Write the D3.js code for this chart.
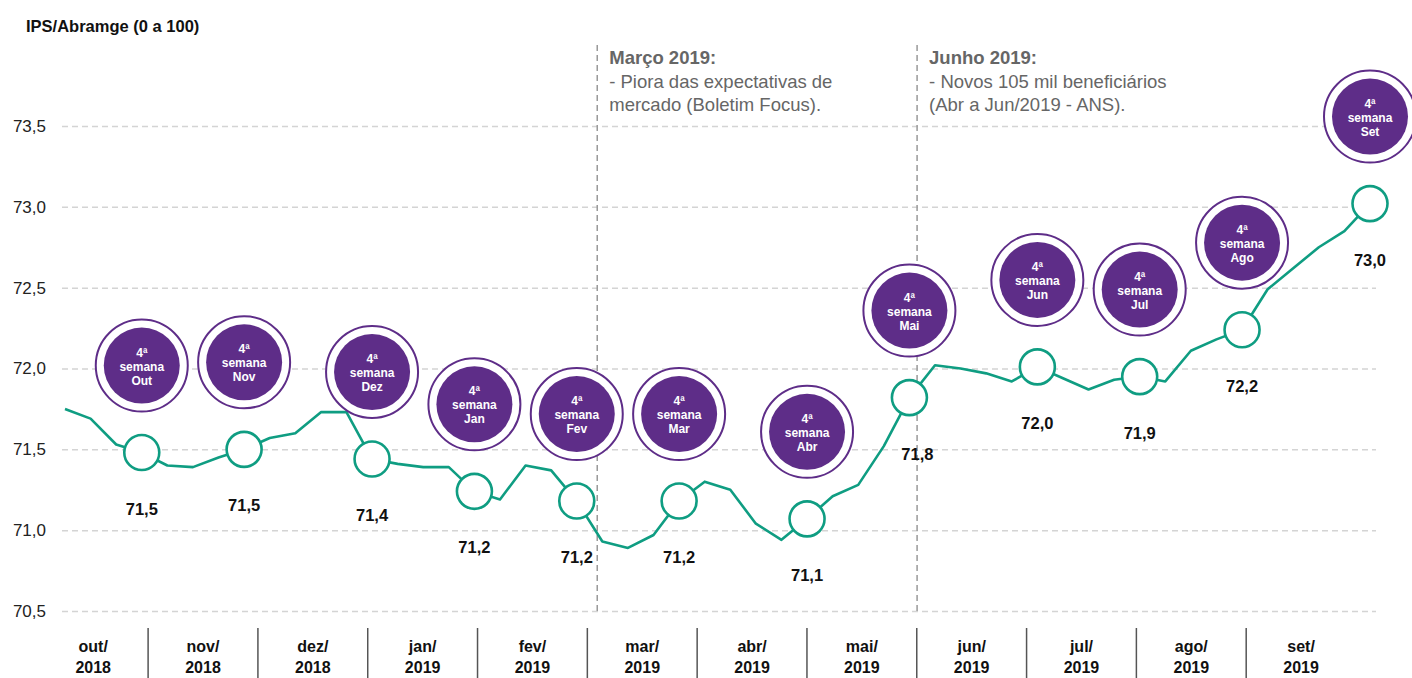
<!doctype html>
<html lang="pt-br">
<head>
	<meta charset="UTF-8">
	<title>IPS/Abramge</title>
	<style>
		body { margin: 0; background: #fff; }
		svg { display: block; font-family: "Liberation Sans", Arial, sans-serif; }
	</style>
</head>
<body>
	<script src="https://cdn.jsdelivr.net/npm/d3@7"></script>
	<script>
		// weekly index, out/2018 .. set/2019
		var weekly = [71.75, 71.69, 71.53, 71.48, 71.40, 71.39, 71.45, 71.50, 71.57, 71.60,
			71.73, 71.73, 71.44, 71.41, 71.39, 71.39, 71.24, 71.19, 71.40, 71.37,
			71.18, 70.93, 70.89, 70.97, 71.18, 71.30, 71.25, 71.04, 70.94, 71.07,
			71.21, 71.28, 71.52, 71.82, 72.02, 72.00, 71.97, 71.92, 72.01, 71.94,
			71.87, 71.93, 71.95, 71.92, 72.11, 72.18, 72.24, 72.49, 72.62, 72.75,
			72.85, 73.02];

		var months = ['out/2018', 'nov/2018', 'dez/2018', 'jan/2019', 'fev/2019', 'mar/2019',
			'abr/2019', 'mai/2019', 'jun/2019', 'jul/2019', 'ago/2019', 'set/2019'];

		// 4a semana de cada mes
		var markerWeek = [3, 7, 12, 16, 20, 24, 29, 33, 38, 42, 46, 51];
		var markerMonth = ['Out', 'Nov', 'Dez', 'Jan', 'Fev', 'Mar', 'Abr', 'Mai', 'Jun', 'Jul', 'Ago', 'Set'];
		var markerLabel = ['71,5', '71,5', '71,4', '71,2', '71,2', '71,2', '71,1', '71,8', '72,0', '71,9', '72,2', '73,0'];

		var yTicks = [70.5, 71.0, 71.5, 72.0, 72.5, 73.0, 73.5];

		var notes = [
			{ week: 20.8, lines: ['Março 2019:', '- Piora das expectativas de', 'mercado (Boletim Focus).'] },
			{ week: 33.3, lines: ['Junho 2019:', '- Novos 105 mil beneficiários', '(Abr a Jun/2019 - ANS).'] }
		];

		var w = 1412,
			h = 678,
			green = '#0f9d82',
			purple = '#5e2d88';

		var ptBR = d3.formatLocale({ decimal: ',', thousands: '.', grouping: [3], currency: ['R$', ''] });
		var fmt = ptBR.format('.1f');

		var x = d3.scaleLinear().domain([0, weekly.length - 1]).range([65, 1370]);
		var y = d3.scaleLinear().domain([70.5, 73.5]).range([611, 126]);
		var xm = d3.scaleBand().domain(months).range([38.3, 1356]);

		var svg = d3.select('body')
			.append('svg')
			.attr('width', w)
			.attr('height', h);

		svg.append('text')
			.attr('x', 26)
			.attr('y', 32)
			.attr('font-size', 16.5)
			.attr('font-weight', 'bold')
			.attr('fill', '#111')
			.text('IPS/Abramge (0 a 100)');

		// grid + y labels
		var yAxis = d3.axisLeft(y)
			.tickValues(yTicks)
			.tickFormat(fmt)
			.tickSize(-(1376 - 62))
			.tickPadding(16);

		var gy = svg.append('g')
			.attr('transform', 'translate(62,0)')
			.call(yAxis);
		gy.select('.domain').remove();
		gy.selectAll('line')
			.attr('stroke', '#d4d4d4')
			.attr('stroke-width', 1.5)
			.attr('stroke-dasharray', '6,4');
		gy.selectAll('text')
			.attr('font-size', 17)
			.attr('fill', '#222')
			.attr('font-family', '"Liberation Sans", Arial, sans-serif');

		// notes
		notes.forEach(function(n) {
			var nx = x(n.week);
			svg.append('line')
				.attr('x1', nx).attr('x2', nx)
				.attr('y1', 45).attr('y2', 612)
				.attr('stroke', '#999')
				.attr('stroke-width', 1.5)
				.attr('stroke-dasharray', '6,4');
			svg.append('g').selectAll('text')
				.data(n.lines)
				.enter()
				.append('text')
				.attr('x', nx + 12)
				.attr('y', function(d, i) { return 64 + i * 23.5; })
				.attr('font-size', 18.5)
				.attr('font-weight', function(d, i) { return i === 0 ? 'bold' : 'normal'; })
				.attr('fill', '#666')
				.text(function(d) { return d; });
		});

		// x axis: month bands
		var gx = svg.append('g');
		gx.selectAll('line')
			.data(months.slice(1))
			.enter()
			.append('line')
			.attr('x1', function(d) { return xm(d); })
			.attr('x2', function(d) { return xm(d); })
			.attr('y1', 628)
			.attr('y2', 678)
			.attr('stroke', '#555')
			.attr('stroke-width', 1.5);
		var mt = gx.selectAll('text')
			.data(months)
			.enter()
			.append('text')
			.attr('text-anchor', 'middle')
			.attr('font-size', 16)
			.attr('font-weight', 'bold')
			.attr('fill', '#111');
		mt.append('tspan')
			.attr('x', function(d) { return xm(d) + xm.bandwidth() / 2; })
			.attr('y', 652)
			.text(function(d) { return d.split('/')[0] + '/'; });
		mt.append('tspan')
			.attr('x', function(d) { return xm(d) + xm.bandwidth() / 2; })
			.attr('y', 673)
			.text(function(d) { return d.split('/')[1]; });

		// line
		var line = d3.line()
			.x(function(d, i) { return x(i); })
			.y(function(d) { return y(d); });

		svg.append('path')
			.datum(weekly)
			.attr('d', line)
			.attr('fill', 'none')
			.attr('stroke', green)
			.attr('stroke-width', 2.6)
			.attr('stroke-linejoin', 'round');

		var mk = svg.selectAll('g.mk')
			.data(markerWeek)
			.enter()
			.append('g')
			.attr('class', 'mk')
			.attr('transform', function(d) {
				return 'translate(' + x(d) + ',' + y(weekly[d]) + ')';
			});

		mk.append('circle')
			.attr('r', 17.5)
			.attr('fill', '#fff')
			.attr('stroke', green)
			.attr('stroke-width', 2.6);

		mk.append('text')
			.attr('x', function(d, i) { return i === 7 ? 8 : 0; })
			.attr('y', 62)
			.attr('text-anchor', 'middle')
			.attr('font-size', 16.5)
			.attr('font-weight', 'bold')
			.attr('fill', '#111')
			.text(function(d, i) { return markerLabel[i]; });

		// badges
		var bd = mk.append('g')
			.attr('transform', 'translate(0,-87)');
		bd.append('circle')
			.attr('r', 46)
			.attr('fill', '#fff')
			.attr('stroke', purple)
			.attr('stroke-width', 2);
		bd.append('circle')
			.attr('r', 38)
			.attr('fill', purple);
		bd.selectAll('text')
			.data(function(d, i) { return ['4ª', 'semana', markerMonth[i]]; })
			.enter()
			.append('text')
			.attr('y', function(d, i) { return -9 + i * 14; })
			.attr('text-anchor', 'middle')
			.attr('font-size', 12)
			.attr('font-weight', 'bold')
			.attr('fill', '#fff')
			.text(function(d) { return d; });
	</script>
</body>
</html>
